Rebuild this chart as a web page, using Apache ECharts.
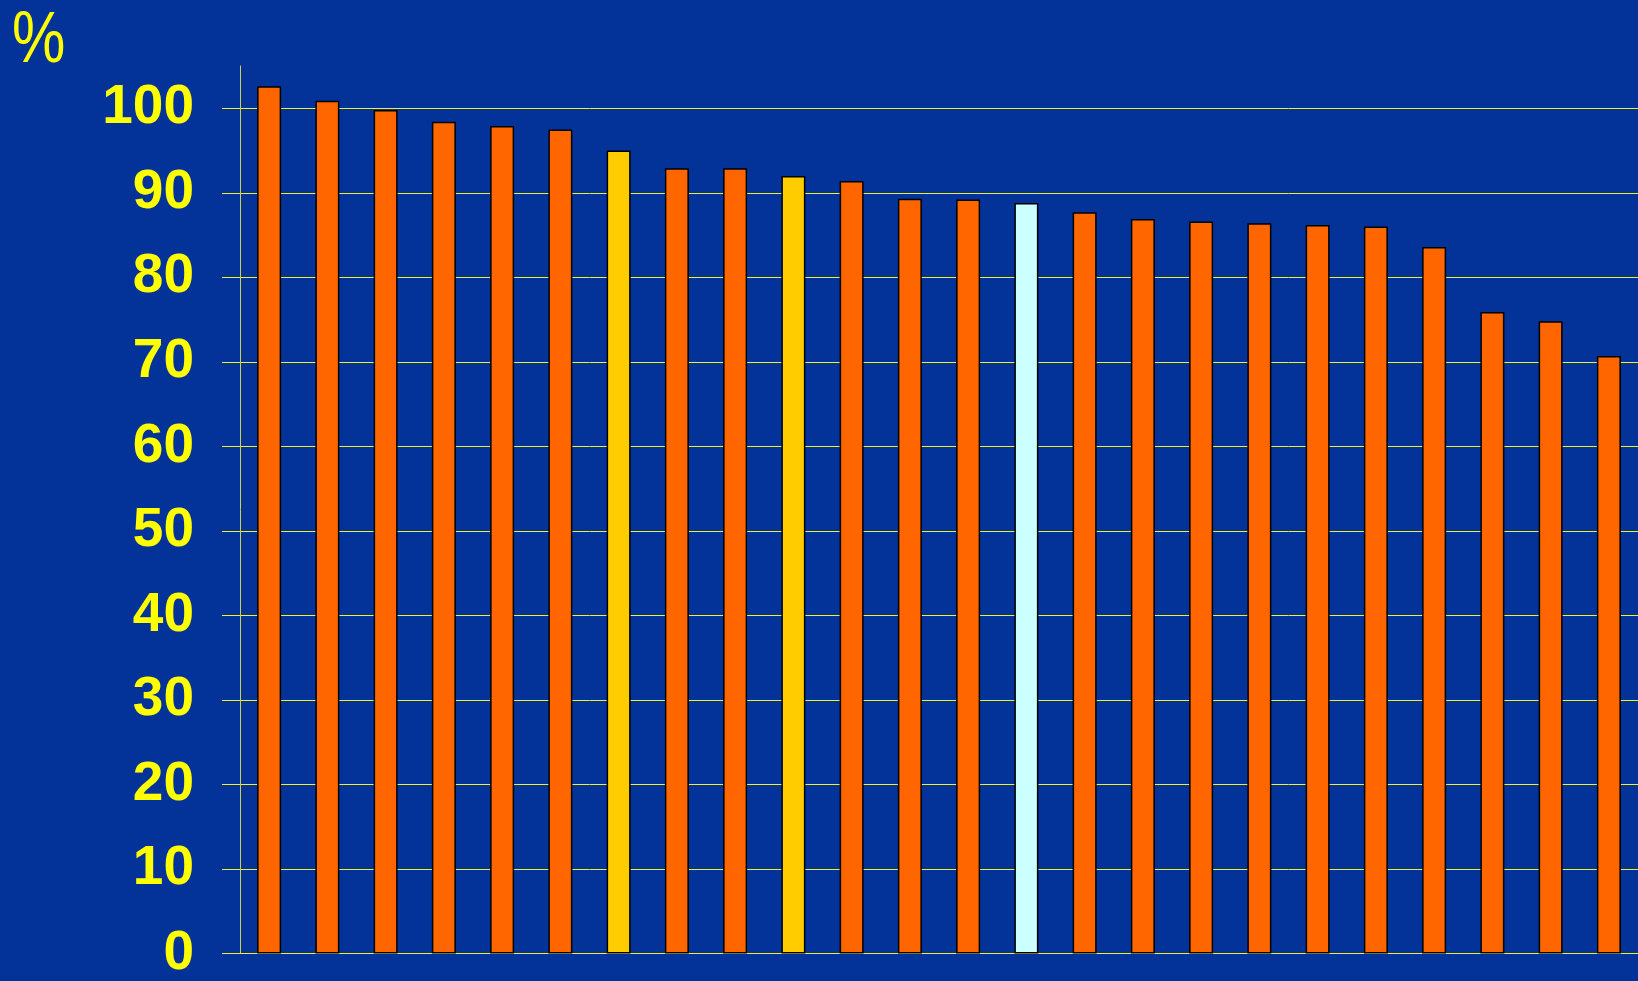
<!DOCTYPE html>
<html>
<head>
<meta charset="utf-8">
<style>
html,body{margin:0;padding:0;background:#033399;}
#chart{width:1638px;height:981px;}
</style>
<script src="https://cdn.jsdelivr.net/npm/echarts@6/dist/echarts.min.js"></script>
</head>
<body>
<div id="chart"></div>
<script>
const categories = ['1','2','3','4','5','6','7','8','9','10','11','12','13','14','15','16','17','18','19','20','21','22','23','24'];
const values = [102.6, 100.9, 99.8, 98.4, 97.9, 97.5, 95.0, 92.9, 92.9, 92.0, 91.4, 89.3, 89.2, 88.8, 87.7, 86.9, 86.6, 86.4, 86.2, 86.0, 83.6, 75.9, 74.8, 70.7];
const barKinds = ['o','o','o','o','o','o','y','o','o','y','o','o','o','c','o','o','o','o','o','o','o','o','o','o'];
const yTicks = [0,10,20,30,40,50,60,70,80,90,100];
const kindColors = {o:'#FF6600', y:'#FFCC00', c:'#CCFFFF'};

const chart = echarts.init(document.getElementById('chart'));
chart.setOption({
  backgroundColor:'#033399',
  animation:false,
  graphic:[{type:'text', left:12, top:6, scaleY:1.2, style:{text:'%', fill:'#FFFF00', fontSize:60, fontWeight:'normal', fontFamily:'"Liberation Sans", Arial, sans-serif'}}],
  grid:{left:240, width:1410, top:66, bottom:19, containLabel:false},
  xAxis:{type:'category', data:categories, axisLine:{show:true, lineStyle:{color:'#f0f030', width:1}}, axisTick:{show:false}, axisLabel:{show:false}, splitLine:{show:false}},
  yAxis:{type:'value', min:0, max:105, interval:10,
    axisLine:{show:true, lineStyle:{color:'#d0d050', width:1}},
    axisTick:{show:true, length:18, lineStyle:{color:'#f0f030', width:1}, customValues:yTicks},
    axisLabel:{color:'#FFFF00', fontSize:55, fontWeight:'bold', fontFamily:'"Liberation Sans", Arial, sans-serif', margin:46, customValues:yTicks},
    splitLine:{show:true, lineStyle:{color:'#f0f030', width:1}}
  },
  series:[{type:'bar', barWidth:24, clip:false,
    data: values.map((v,i)=>({value:v, itemStyle:{color:kindColors[barKinds[i]]}})),
    itemStyle:{borderColor:'#000000', borderWidth:1.5}
  }]
});
</script>
</body>
</html>
